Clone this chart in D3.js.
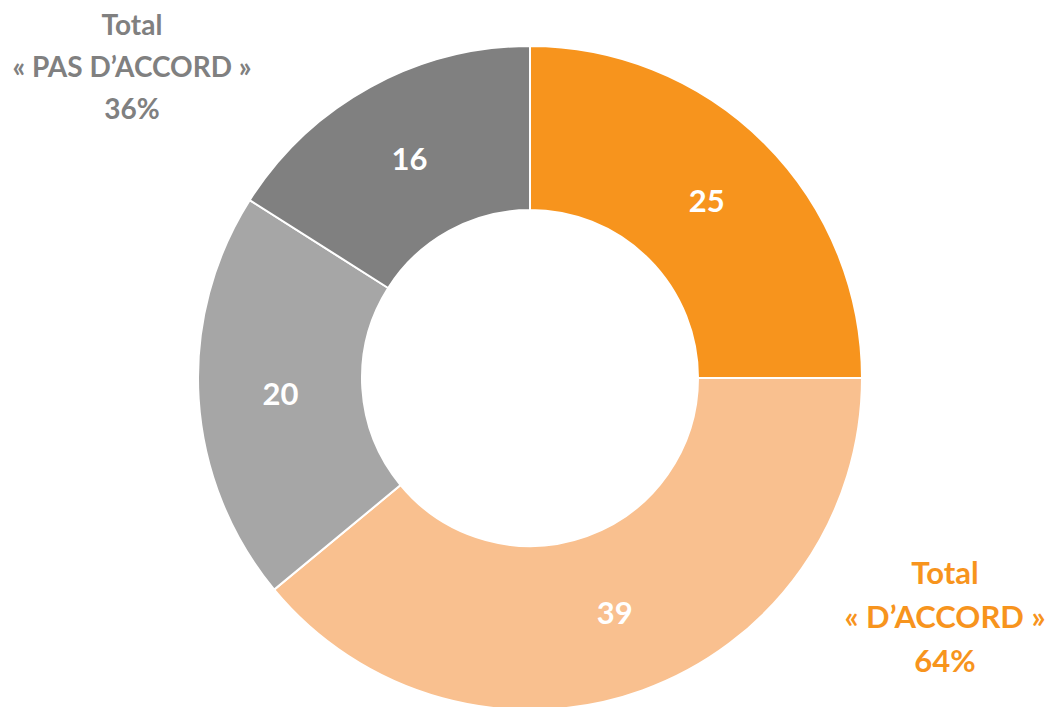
<!DOCTYPE html>
<html>
<head>
<meta charset="utf-8">
<script src="https://cdn.jsdelivr.net/npm/d3@7"></script>
<style>
  body { margin: 0; background: #fff; }
  svg { display: block; }
</style>
</head>
<body>
<div id="grafica"></div>
<script>
// valeurs (sens horaire depuis le haut)
categories = ['Tout à fait d’accord', 'Plutôt d’accord', 'Plutôt pas d’accord', 'Pas du tout d’accord']
valeurs    = [25, 39, 20, 16]
couleurs   = ['#F7941D', '#F9C08F', '#A6A6A6', '#808080']

totalPasAccord = ['Total', '« PAS D’ACCORD »', '36%']
totalAccord    = ['Total', '« D’ACCORD »', '64%']

ancho_total = 1057
alto_total  = 707
cx = 530
cy = 378
r_ext = 332
r_int = 168

svg = d3
        .select('#grafica')
        .append('svg')
        .attr('width', ancho_total)
        .attr('height', alto_total)

g = svg
      .append('g')
      .attr('transform', `translate(${cx}, ${cy})`)

pie = d3.pie().sort(null).value((d) => d)
arc = d3.arc().innerRadius(r_int).outerRadius(r_ext)
arcLabel = d3.arc().innerRadius((r_int + r_ext) / 2).outerRadius((r_int + r_ext) / 2)

color = d3.scaleOrdinal().domain(categories).range(couleurs)

arcs = pie(valeurs)

g.selectAll('path')
  .data(arcs)
  .enter()
  .append('path')
    .attr('d', arc)
    .attr('fill', (d, i) => color(categories[i]))
    .attr('stroke', '#fff')
    .attr('stroke-width', 2)

g.selectAll('text.val')
  .data(arcs)
  .enter()
  .append('text')
    .classed('val', true)
    .attr('transform', (d) => `translate(${arcLabel.centroid(d)})`)
    .attr('dy', '0.35em')
    .attr('text-anchor', 'middle')
    .attr('font-family', 'Lato, "Open Sans", sans-serif')
    .attr('font-weight', 'bold')
    .attr('font-size', '31px')
    .attr('fill', '#fff')
    .text((d) => d.data)

function bloc(lignes, x, y, fill, pas, taille) {
  t = svg.append('text')
        .attr('text-anchor', 'middle')
        .attr('font-family', 'Lato, "Open Sans", sans-serif')
        .attr('font-weight', 'bold')
        .attr('font-size', taille)
        .attr('fill', fill)
  lignes.forEach((l, i) => {
    t.append('tspan')
      .attr('x', x)
      .attr('y', y + i * pas)
      .text(l)
  })
}

bloc(totalPasAccord, 132, 35, '#808080', 42, '28px')
bloc(totalAccord, 945, 584, '#F7941D', 44, '31px')
</script>
</body>
</html>
